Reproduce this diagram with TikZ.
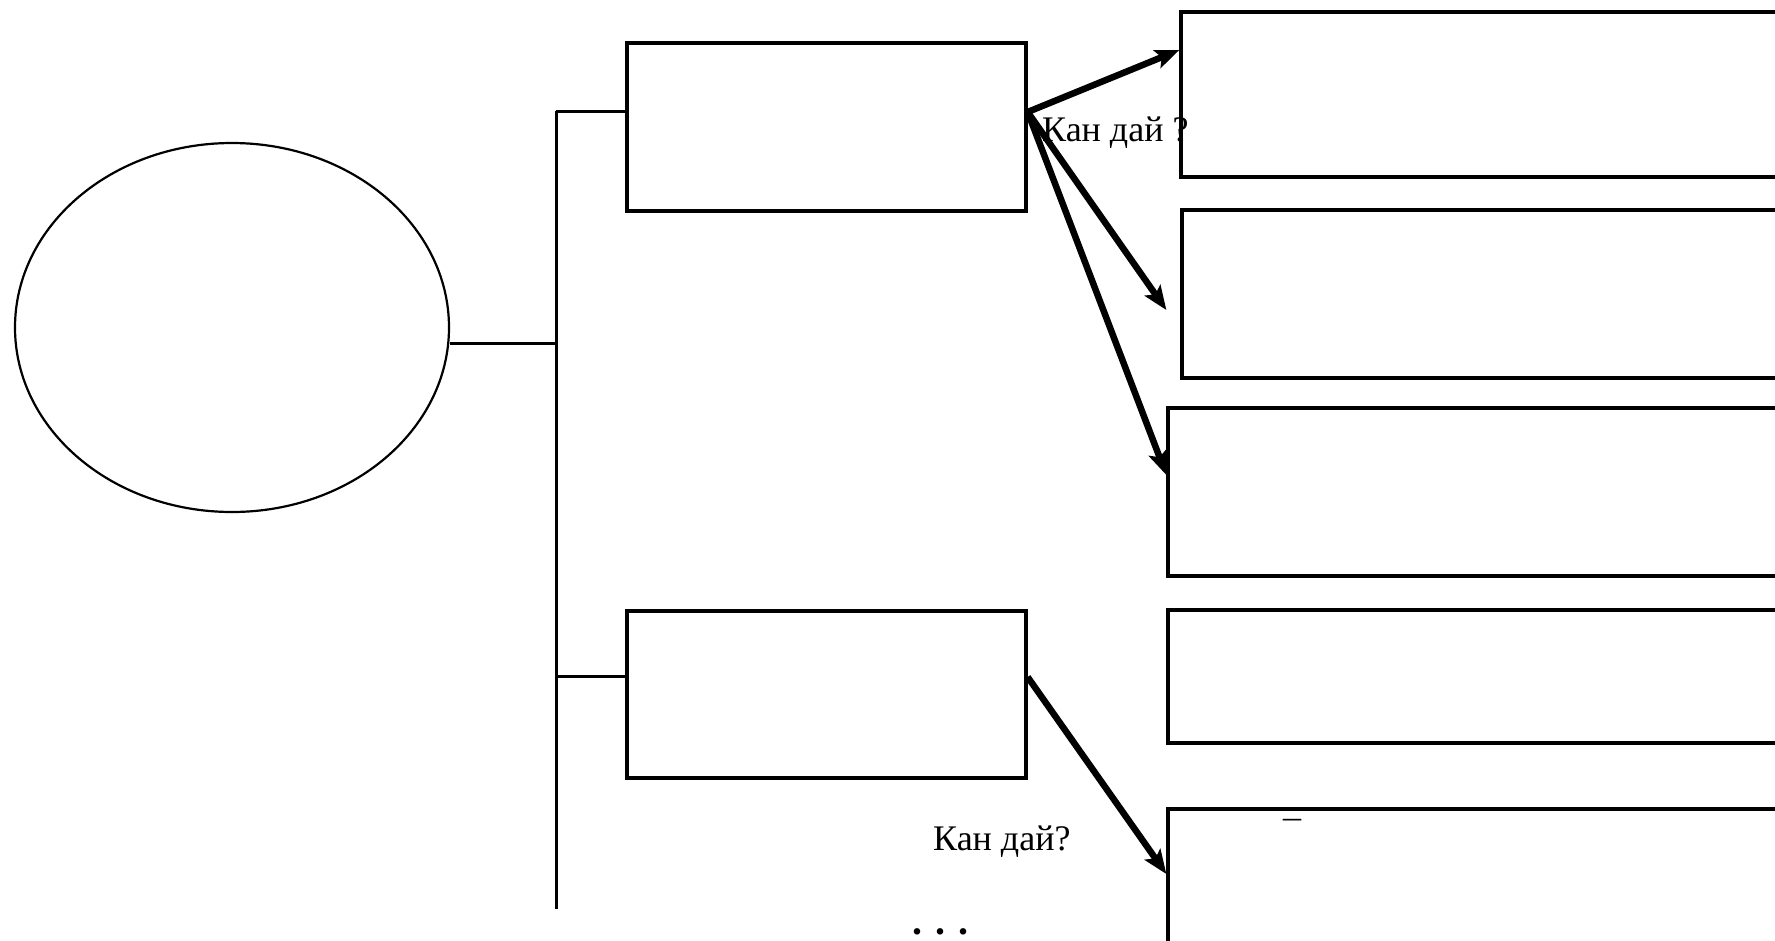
\documentclass[tikz,border=0pt]{standalone}
\usepackage{fontspec}
\setmainfont{Liberation Serif}
\usetikzlibrary{shapes.geometric,arrows.meta,calc}
\begin{document}
\begin{tikzpicture}[x=1pt,y=-1pt,
  boxstyle/.style={draw,line width=3.3pt,rectangle,inner sep=0pt},
  ovalstyle/.style={draw,line width=2.2pt,ellipse,inner sep=0pt,minimum width=434pt,minimum height=369pt},
  treeline/.style={line width=3pt},
  arrowline/.style={line width=6.5pt,-{Stealth[length=24pt,width=19pt,inset=5pt]}},
  lbl/.style={font=\fontsize{36}{36}\selectfont,inner sep=0pt,anchor=base west}
]
\useasboundingbox (0,0) rectangle (1775,940);
\clip (0,0) rectangle (1775,940);
\fill[white] (0,0) rectangle (1775,940);

% oval
\node[ovalstyle] (e) at (232,327.5) {};

% left boxes
\node[boxstyle,minimum width=399pt,minimum height=168pt] (b1) at (826.5,127) {};
\node[boxstyle,minimum width=399pt,minimum height=167pt] (b2) at (826.5,694.5) {};

% right boxes
\node[boxstyle,minimum width=619pt,minimum height=165pt] (r1) at (1490.5,94.5) {};
\node[boxstyle,minimum width=618pt,minimum height=168pt] (r2) at (1491,294) {};
\node[boxstyle,minimum width=632pt,minimum height=168pt] (r3) at (1484,492) {};
\node[boxstyle,minimum width=632pt,minimum height=133pt] (r4) at (1484,676.5) {};
\node[boxstyle,minimum width=632pt,minimum height=151pt] (r5) at (1484,884.5) {};

% tree
\coordinate (j) at (556,343);
\coordinate (ttop) at (556,111);
\coordinate (t2) at (556,676);
\coordinate (tbot) at (556,909);
\draw[treeline] (e.east |- j) -- (j);
\draw[treeline] (ttop) -- (tbot);
\draw[treeline] (ttop) -- (b1.west |- ttop);
\draw[treeline] (t2) -- (b2.west |- t2);

% labels
\node[lbl] (q1) at (1042,141) {Кан дай ?};
\node[lbl] (q2) at (933,850) {Кан дай?};
\node[font=\fontsize{40}{40}\selectfont\bfseries,inner sep=0pt,anchor=base west] (dots) at (912,934) {. . .};
\node[lbl,anchor=base] (mk) at (1292,846) {¯};

% arrows
\coordinate (s1) at ($(b1.east)+(0,-15)$);
\coordinate (s2) at ($(b2.east)+(0,-17.5)$);
\draw[arrowline] (s1) -- ($(r1.west)+(0,-44.5)$);
\draw[arrowline] (s1) -- ($(r2.west)+(-14,16)$);
\draw[arrowline] (s1) -- ($(r3.west)+(0,-17)$);
\draw[arrowline] (s2) -- ($(r5.west)+(0,-10.5)$);
\end{tikzpicture}
\end{document}
